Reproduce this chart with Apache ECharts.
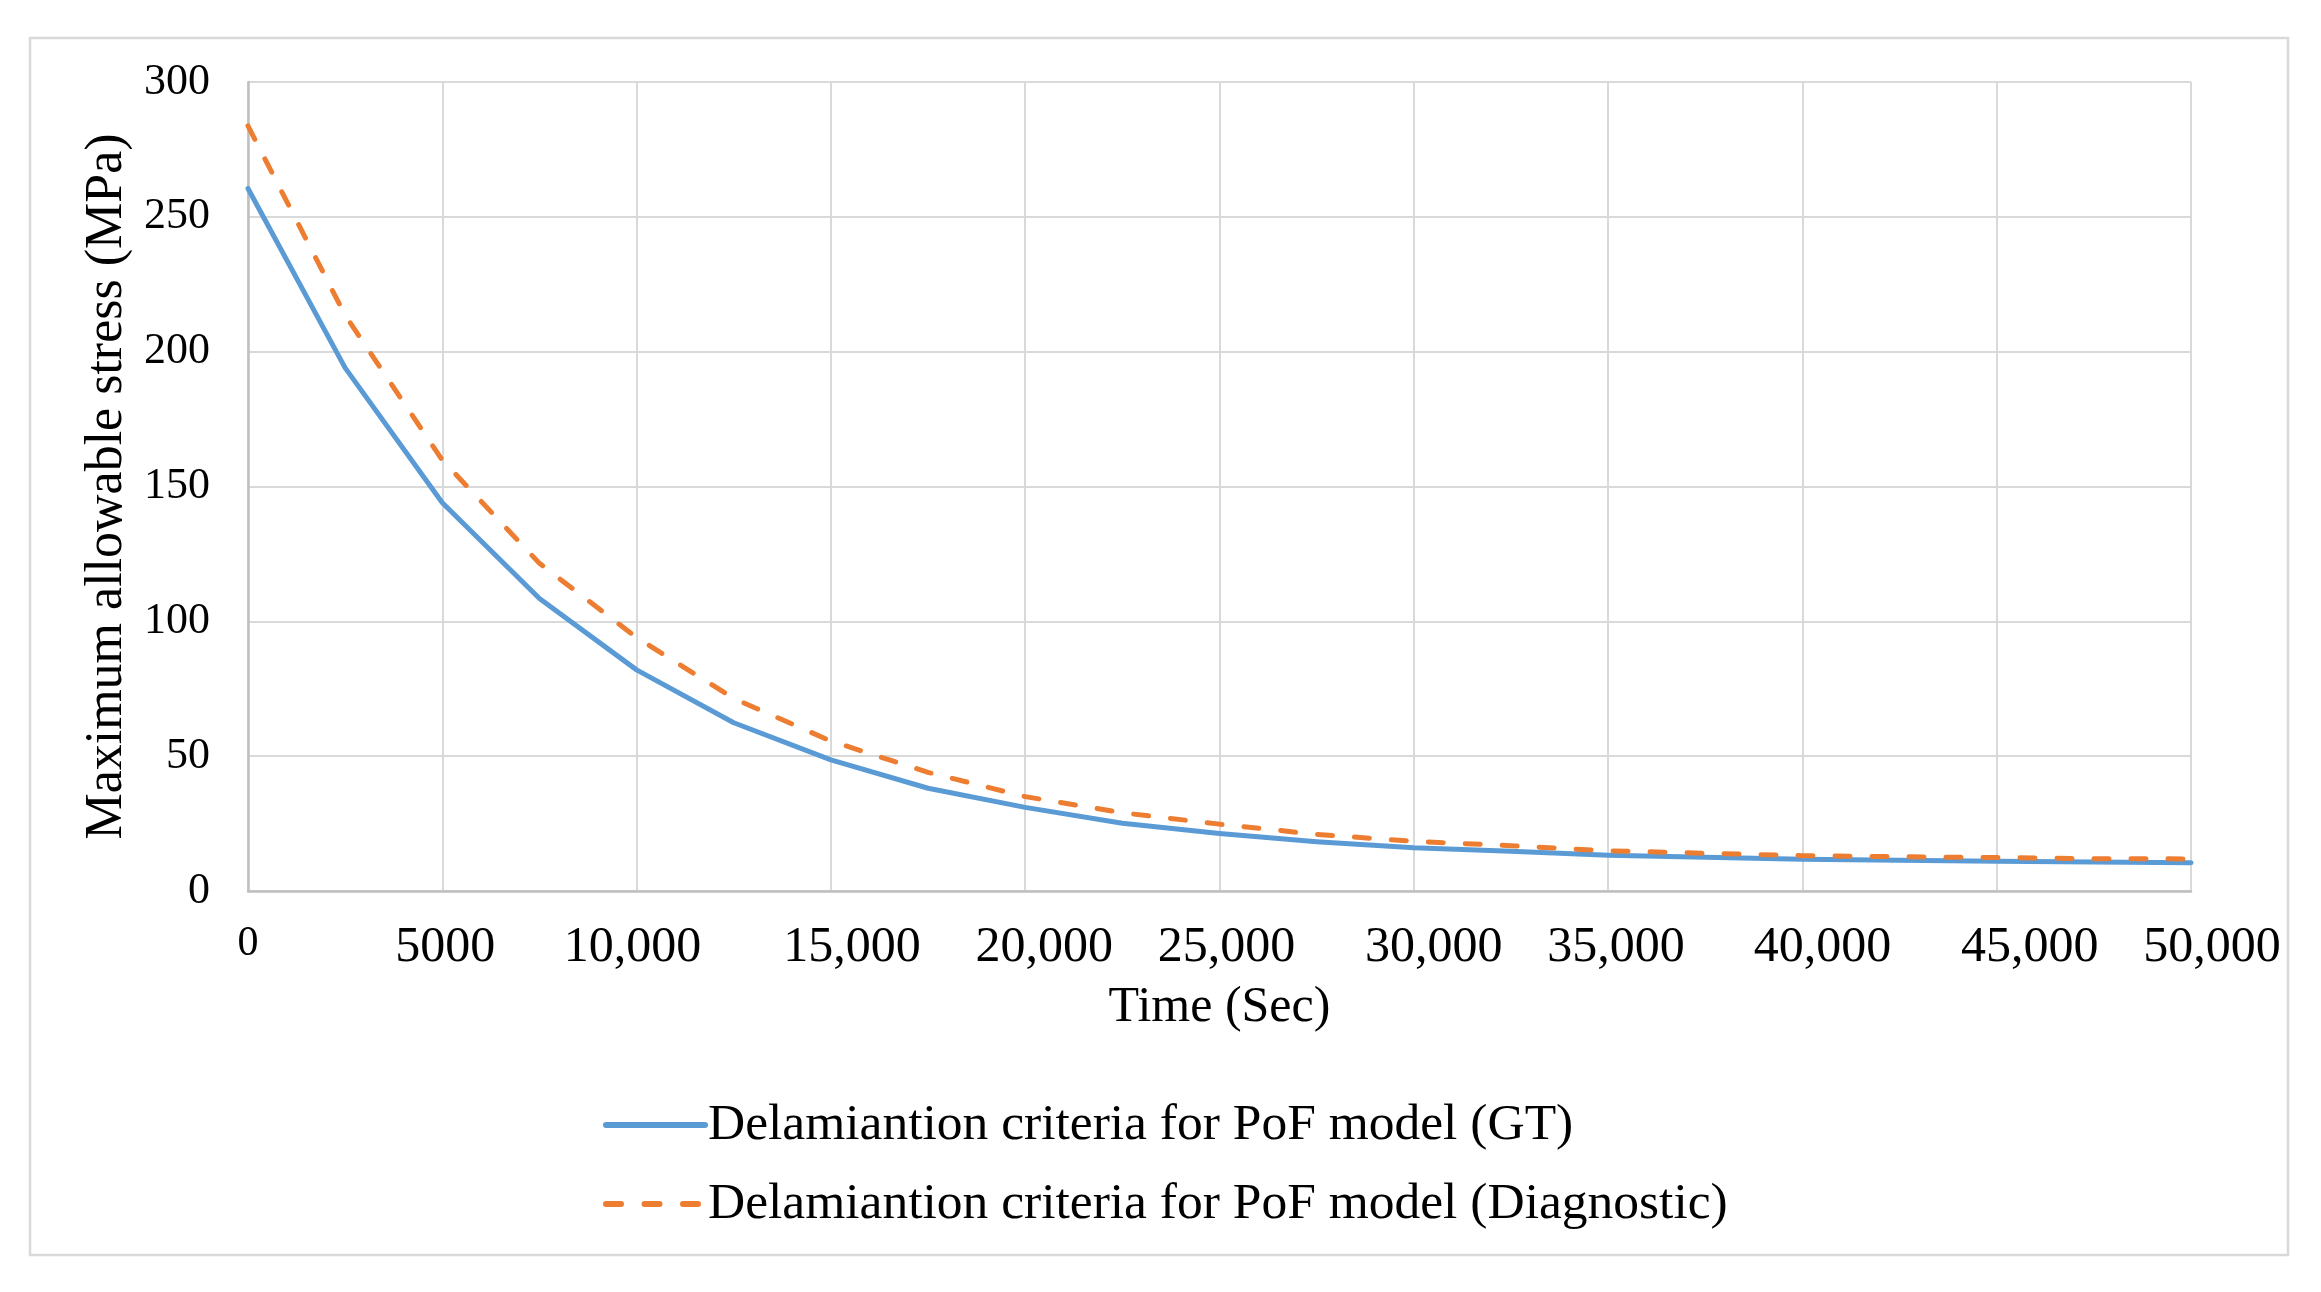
<!DOCTYPE html>
<html>
<head>
<meta charset="utf-8">
<script src="https://cdn.jsdelivr.net/npm/echarts@6/dist/echarts.min.js"></script>
<style>
html,body{margin:0;padding:0;background:#fff;}
#chart{width:2321px;height:1292px;}
</style>
</head>
<body>
<div id="chart"></div>
<script>
// Data
const timeSec = [0, 2500, 5000, 7500, 10000, 12500, 15000, 17500, 20000, 22500, 25000,
                 27500, 30000, 32500, 35000, 37500, 40000, 42500, 45000, 47500, 50000];
const stressGT = [260.5, 194, 144, 108.5, 82, 62.4, 48.6, 38.1, 31, 25.1, 21.3,
                  18.3, 16, 14.7, 13.3, 12.5, 11.8, 11.4, 11, 10.75, 10.5];
const stressDiag = [283.7, 213.5, 159.8, 121.5, 94, 71.4, 55.6, 44, 35, 29, 24.8,
                    21, 18.4, 16.8, 14.9, 14, 13.1, 12.7, 12.4, 12, 11.9];
const seriesNames = ['Delamiantion criteria for PoF model (GT)',
                     'Delamiantion criteria for PoF model (Diagnostic)'];
const xAxisTitle = 'Time (Sec)';
const yAxisTitle = 'Maximum allowable stress (MPa)';

const FONT = '"Liberation Serif", "Times New Roman", serif';
// small horizontal nudges of the x tick labels (as placed in the original figure)
const xLabelNudge = {0: 0, 5000: 3, 10000: -4, 15000: 21, 20000: 19, 25000: 7,
                     30000: 20, 35000: 8, 40000: 20, 45000: 33, 50000: 21};

const chart = echarts.init(document.getElementById('chart'));
function pairs(xs, ys) { return xs.map((x, i) => [x, ys[i]]); }

const rich = {z: {fontFamily: FONT, fontSize: 42, color: '#000'}};
Object.keys(xLabelNudge).forEach(function (k) {
  const d = xLabelNudge[k];
  rich['n' + k] = {fontFamily: FONT, fontSize: 50, color: '#000',
                   padding: d >= 0 ? [0, 0, 0, 2 * d] : [0, -2 * d, 0, 0]};
});

chart.setOption({
  animation: false,
  backgroundColor: '#ffffff',
  graphic: [{
    type: 'rect',
    shape: {x: 30, y: 38, width: 2258, height: 1217},
    style: {fill: 'none', stroke: '#D9D9D9', lineWidth: 2.5},
    silent: true
  }],
  grid: {left: 248, right: 130, top: 82, bottom: 401, containLabel: false},
  xAxis: {
    type: 'value', min: 0, max: 50000, interval: 5000,
    name: xAxisTitle, nameLocation: 'middle', nameGap: 92,
    nameTextStyle: {fontFamily: FONT, fontSize: 50, color: '#000'},
    axisLine: {show: true, lineStyle: {color: '#BFBFBF', width: 2.5}},
    axisTick: {show: false},
    splitLine: {show: true, lineStyle: {color: '#D9D9D9', width: 2}},
    axisLabel: {
      margin: 32, fontFamily: FONT, fontSize: 50, color: '#000',
      formatter: function (v) {
        if (v === 0) return '{z|0}';
        const txt = v < 10000 ? String(v) : v.toLocaleString('en-US');
        return '{n' + v + '|' + txt + '}';
      },
      rich: rich
    }
  },
  yAxis: {
    type: 'value', min: 0, max: 300, interval: 50,
    name: yAxisTitle, nameLocation: 'middle', nameGap: 112,
    nameTextStyle: {fontFamily: FONT, fontSize: 52, color: '#000'},
    axisLine: {show: true, lineStyle: {color: '#BFBFBF', width: 2.5}},
    axisTick: {show: false},
    splitLine: {show: true, lineStyle: {color: '#D9D9D9', width: 2}},
    axisLabel: {margin: 38, fontFamily: FONT, fontSize: 44, color: '#000'}
  },
  legend: {
    orient: 'vertical', left: 598, top: 1092,
    itemWidth: 99, itemHeight: 16, itemGap: 23,
    itemStyle: {opacity: 0},
    textStyle: {fontFamily: FONT, fontSize: 51.5, color: '#000', lineHeight: 56, padding: [0, 0, 0, -2]},
    data: [
      {name: seriesNames[0], lineStyle: {width: 6, cap: 'round'}},
      {name: seriesNames[1], lineStyle: {width: 6, type: [15, 23.5], cap: 'round'}}
    ]
  },
  series: [
    {
      name: seriesNames[0], type: 'line', data: pairs(timeSec, stressGT),
      symbol: 'none', smooth: false,
      lineStyle: {color: '#5B9BD5', width: 5, cap: 'round', join: 'round'},
      itemStyle: {color: '#5B9BD5'}
    },
    {
      name: seriesNames[1], type: 'line', data: pairs(timeSec, stressDiag),
      symbol: 'none', smooth: false,
      lineStyle: {color: '#ED7D31', width: 5, type: [15, 22], cap: 'round', join: 'round'},
      itemStyle: {color: '#ED7D31'}
    }
  ]
});
</script>
</body>
</html>
